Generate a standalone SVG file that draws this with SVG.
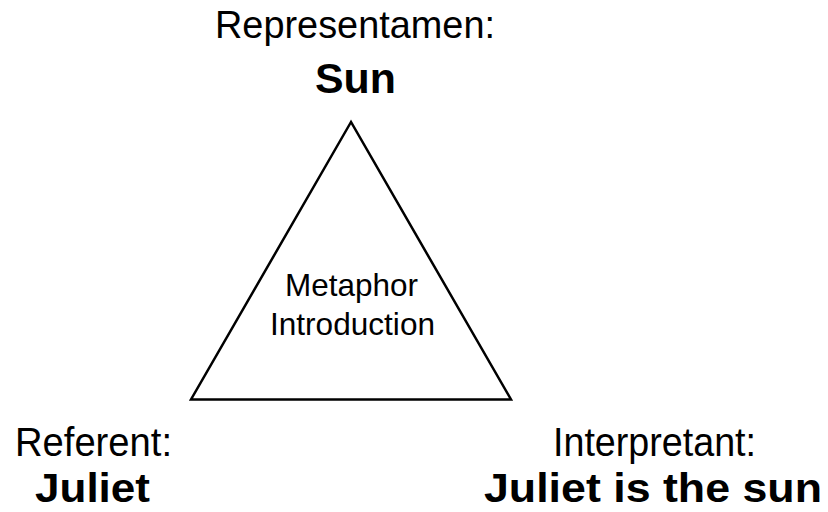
<svg xmlns="http://www.w3.org/2000/svg" width="828" height="512" viewBox="0 0 828 512">
  <style>
    .lbl { font-family: "Liberation Sans", Arial, sans-serif; fill: #000; text-anchor: middle; }
    .bold { font-weight: bold; }
    .edge { fill: none; stroke: #000; stroke-width: 2.5; stroke-linejoin: miter; }
  </style>
  <rect width="828" height="512" fill="#fff"/>
  <g id="connectors">
    <polygon class="edge" points="351,122 191,399.5 511,399.5"/>
  </g>
  <g id="representamen">
    <text class="lbl" x="355" y="38" font-size="39" textLength="280" lengthAdjust="spacingAndGlyphs">Representamen:</text>
    <text class="lbl bold" x="355.5" y="93" font-size="43" textLength="81" lengthAdjust="spacingAndGlyphs">Sun</text>
  </g>
  <g id="center">
    <text class="lbl" x="351.5" y="296" font-size="32" textLength="133" lengthAdjust="spacingAndGlyphs">Metaphor</text>
    <text class="lbl" x="352.5" y="335" font-size="32" textLength="165" lengthAdjust="spacingAndGlyphs">Introduction</text>
  </g>
  <g id="referent">
    <text class="lbl" x="93.5" y="456" font-size="40" textLength="157" lengthAdjust="spacingAndGlyphs">Referent:</text>
    <text class="lbl bold" x="92.5" y="502" font-size="41" textLength="115" lengthAdjust="spacingAndGlyphs">Juliet</text>
  </g>
  <g id="interpretant">
    <text class="lbl" x="654.5" y="456" font-size="40" textLength="203" lengthAdjust="spacingAndGlyphs">Interpretant:</text>
    <text class="lbl bold" x="653" y="502" font-size="41" textLength="338" lengthAdjust="spacingAndGlyphs">Juliet is the sun</text>
  </g>
</svg>
